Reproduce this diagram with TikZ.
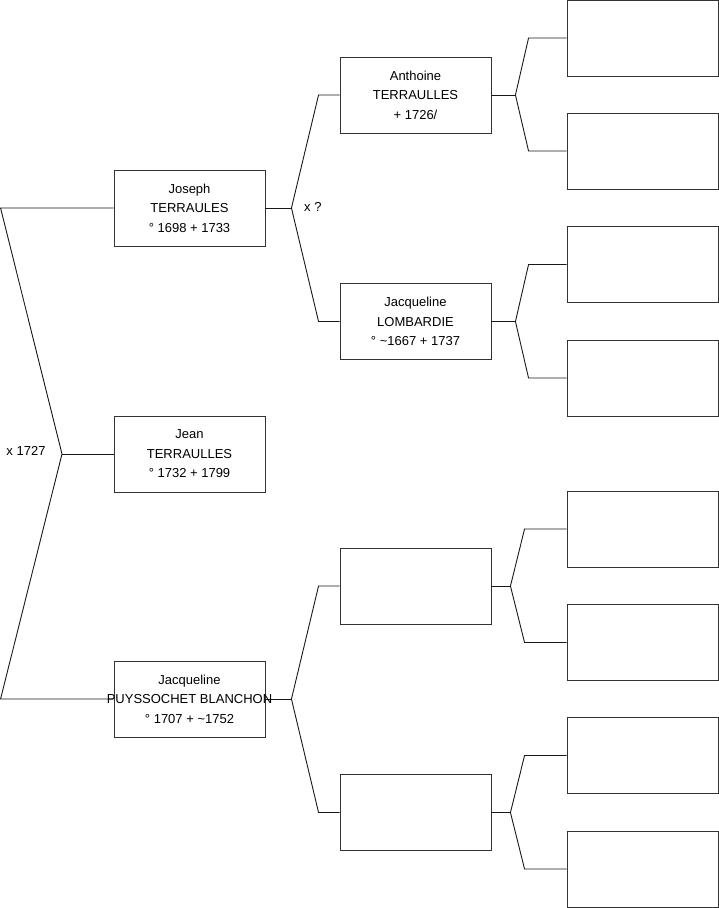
\documentclass[tikz,border=0pt]{standalone}
\usepackage{fontspec}
\setmainfont{Liberation Sans}
\usetikzlibrary{positioning}
\tikzset{
  person/.style={draw=black!80, line width=0.9pt, fill=white, minimum width=151pt,
                 minimum height=76pt, inner sep=0pt, align=center,
                 font=\fontsize{13}{19.5}\selectfont},
  link/.style={draw=black!90, line width=0.9pt},
  union/.style={inner sep=0pt, font=\fontsize{13}{14}\selectfont}
}

\begin{document}
\begin{tikzpicture}[x=1pt,y=-1pt]
    \useasboundingbox (0,0) rectangle (719,908);
    % Generation 1
    \node[person] (jean) at (189.5,454) {Jean\\TERRAULLES\\° 1732 + 1799};
    % Parents
    \node[person] (joseph) at (189.5,208) {Joseph\\TERRAULES\\° 1698 + 1733};
    \node[person] (puyssochet) at (189.5,699) {};
    % Grandparents
    \node[person] (anthoine) at (415.5,95) {Anthoine\\TERRAULLES\\+ 1726/};
    \node[person] (lombardie) at (415.5,321.5) {Jacqueline\\LOMBARDIE\\° \textasciitilde1667 + 1737};
    \node[person] (gpa) at (415.5,586) {};
    \node[person] (gpb) at (415.5,812.5) {};
    % Great-grandparents
    \foreach \y [count=\i] in {38,151,264.5,378,529,642.5,755.5,869}
        \node[person] (ggp\i) at (642.5,\y) {};

    % Links
    \draw[link] (joseph.west) -- ++(-113,0) coordinate (e1) -- (62,454) coordinate (f1)
        -- (e1 |- puyssochet.west) -- (puyssochet.west);
    \draw[link] (f1) -- (jean.west);
    \foreach \c/\a/\b in {joseph/anthoine/lombardie, puyssochet/gpa/gpb} {
        \draw[link] (\a.west) -- ++(-21,0) -- ([xshift=26pt]\c.east)
            -- ([xshift=-21pt]\b.west) -- (\b.west);
        \draw[link] (\c.east) -- ++(26,0);
    }
    \foreach \c/\a/\b/\f/\e in {anthoine/ggp1/ggp2/24/38, lombardie/ggp3/ggp4/24/38,
                                gpa/ggp5/ggp6/19/42, gpb/ggp7/ggp8/19/42} {
        \draw[link] (\a.west) -- ([xshift=-\e pt]\a.west) -- ([xshift=\f pt]\c.east)
            -- ([xshift=-\e pt]\b.west) -- (\b.west);
        \draw[link] (\c.east) -- ++(\f,0);
    }

    % Text over the links
    \node[align=center, font=\fontsize{13}{19.5}\selectfont] (puyname) at (puyssochet)
        {Jacqueline\\PUYSSOCHET BLANCHON\\° 1707 + \textasciitilde1752};
    \node[union] (m1) at (26,451) {x 1727};
    \node[union, anchor=west] (m2) at (304,207) {x ?};
\end{tikzpicture}
\end{document}
